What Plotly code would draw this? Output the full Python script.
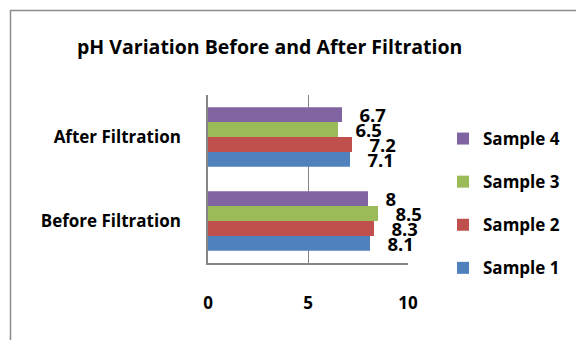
import plotly.graph_objects as go

categories = ["Before Filtration", "After Filtration"]
series_names = ["Sample 1", "Sample 2", "Sample 3", "Sample 4"]
sample1 = [8.1, 7.1]
sample2 = [8.3, 7.2]
sample3 = [8.5, 6.5]
sample4 = [8.0, 6.7]
series_values = [sample1, sample2, sample3, sample4]
colors = ["#4F81BD", "#C0504D", "#9BBB59", "#8064A2"]
x_ticks = [0, 5, 10]

FONT = "Open Sans"

fig = go.Figure()
for i, (name, vals, col) in enumerate(zip(series_names, series_values, colors)):
    fig.add_trace(go.Bar(
        y=categories, x=vals, name=name, orientation="h",
        marker=dict(color=col, line=dict(width=0)),
        text=[f"{v:g}" for v in vals],
        texttemplate="\u00a0\u00a0\u00a0%{text}",
        textposition="outside",
        textfont=dict(family=FONT, size=18.5, color="black", weight="bold"),
        constraintext="none", cliponaxis=False,
        legendgroup=name, legendrank=len(series_names) - i,
    ))

L, R, T, B = 208, 576 - 409, 95, 340 - 263
PW, PH = 576 - L - R, 340 - T - B

def px(xp):
    return (xp - L) / PW

def py(yp):
    return (340 - B - yp) / PH

fig.update_layout(
    width=576, height=340,
    margin=dict(l=L, r=R, t=T, b=B),
    paper_bgcolor="white", plot_bgcolor="white",
    barmode="group", bargap=0.29, bargroupgap=0,
    font=dict(family=FONT, color="black"),
    title=dict(text="pH Variation Before and After Filtration",
               x=px(270), xref="paper", xanchor="center",
               y=1 - 47 / 340, yref="container", yanchor="middle",
               font=dict(family=FONT, size=19.5, color="black", weight="bold")),
    xaxis=dict(range=[0, 10], tickvals=x_ticks, showgrid=True,
               gridcolor="#868686", gridwidth=1, showline=True,
               linecolor="#868686", linewidth=1.5, zeroline=False,
               ticks="", ticklabelstandoff=24,
               tickfont=dict(family=FONT, size=17, color="black", weight="bold")),
    yaxis=dict(categoryorder="array", categoryarray=categories,
               showline=True, linecolor="#868686", linewidth=1.5,
               showgrid=False, ticks="", ticklabelstandoff=22,
               tickfont=dict(family=FONT, size=17, color="black", weight="bold")),
    legend=dict(x=px(443), xanchor="left", y=py(121), yanchor="top",
                traceorder="grouped", tracegroupgap=18,
                itemwidth=30,
                font=dict(family=FONT, size=17, color="black", weight="bold")),
    showlegend=True,
    shapes=[dict(type="rect", xref="paper", yref="paper",
                 x0=px(9.5), x1=px(590), y0=py(360), y1=py(10.5),
                 line=dict(color="#8c8c8c", width=1.5), fillcolor="rgba(0,0,0,0)",
                 layer="below")],
)

fig.write_html("out.html")
